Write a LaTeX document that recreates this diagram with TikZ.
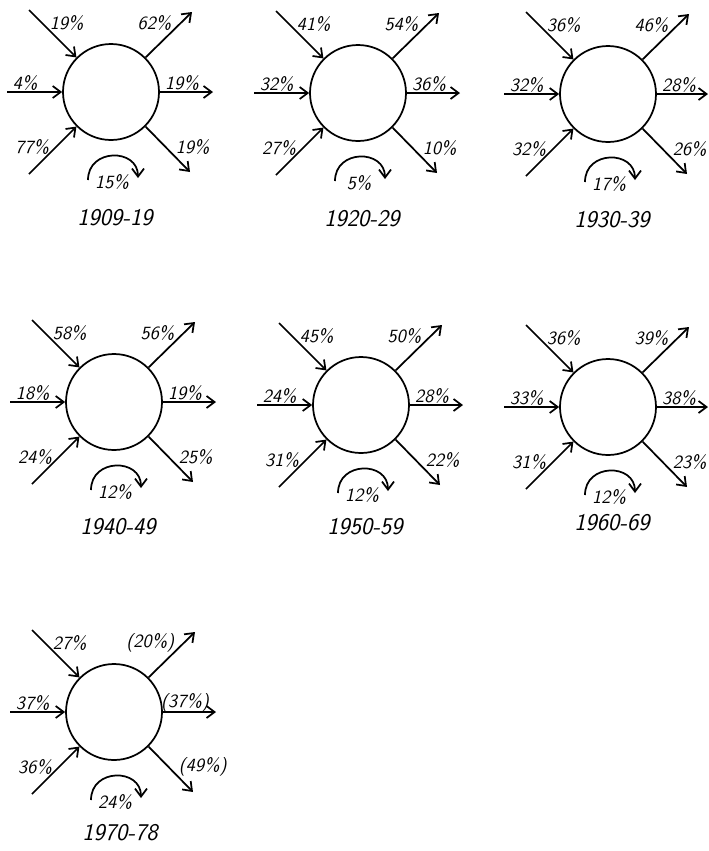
\documentclass[tikz,border=0pt]{standalone}
\usetikzlibrary{arrows.meta}
\tikzset{every picture/.style={line width=1.3pt}}
\tikzset{
	pool/.style={draw, circle, minimum size=72pt, inner sep=0pt},
	flow/.style={-{Straight Barb[length=6pt,width=9pt]}},
	pct/.style={font=\fontsize{14}{16}\selectfont\sffamily\slshape, inner sep=0pt},
	period/.style={font=\fontsize{18}{20}\selectfont\sffamily\slshape, inner sep=0pt}}

\begin{document}
\begin{tikzpicture}[x=0.75pt,y=0.75pt,yscale=-1,xscale=1]
	\useasboundingbox (0,0) rectangle (709,851);

	%Diagram: 1909-19
	\begin{scope}[shift={(111,92)}]
	\node[pool] (pool-a) at (0,0) {};
	\coordinate (nw-a) at (-82,-82);
	\coordinate (w-a) at (-104,0);
	\coordinate (sw-a) at (-82,82);
	\coordinate (ne-a) at (81,-80);
	\coordinate (e-a) at (102,0);
	\coordinate (se-a) at (79,80);
	\coordinate (rs-a) at (-23,88);
	\coordinate (re-a) at (27,86);
	\draw[flow] (nw-a) -- (pool-a.135);
	\draw[flow] (w-a) -- (pool-a.west);
	\draw[flow] (sw-a) -- (pool-a.225);
	\draw[flow] (pool-a.45) -- (ne-a);
	\draw[flow] (pool-a.east) -- (e-a);
	\draw[flow] (pool-a.315) -- (se-a);
	\draw[flow] (rs-a) .. controls (-23,56) and (27,56) .. (re-a);
	% Text Node
	\node[pct, anchor=west] (tnw-a) at (-62,-69) {19\%};
	\node[pct, anchor=west] (tw-a) at (-99,-9) {4\%};
	\node[pct] (tsw-a) at (-79,55) {77\%};
	\node[pct, anchor=east] (tne-a) at (61,-69) {62\%};
	\node[pct] (te-a) at (71,-9) {19\%};
	\node[pct, anchor=west] (tse-a) at (64,55) {19\%};
	\node[pct] (tr-a) at (1,90) {15\%};
	\node[period] (yr-a) at (4,126) {1909-19};
	\end{scope}

	%Diagram: 1920-29
	\begin{scope}[shift={(358,93)}]
	\node[pool] (pool-b) at (0,0) {};
	\coordinate (nw-b) at (-82,-82);
	\coordinate (w-b) at (-104,0);
	\coordinate (sw-b) at (-82,82);
	\coordinate (ne-b) at (81,-80);
	\coordinate (e-b) at (102,0);
	\coordinate (se-b) at (79,80);
	\coordinate (rs-b) at (-23,88);
	\coordinate (re-b) at (27,86);
	\draw[flow] (nw-b) -- (pool-b.135);
	\draw[flow] (w-b) -- (pool-b.west);
	\draw[flow] (sw-b) -- (pool-b.225);
	\draw[flow] (pool-b.45) -- (ne-b);
	\draw[flow] (pool-b.east) -- (e-b);
	\draw[flow] (pool-b.315) -- (se-b);
	\draw[flow] (rs-b) .. controls (-23,56) and (27,56) .. (re-b);
	% Text Node
	\node[pct, anchor=west] (tnw-b) at (-62,-69) {41\%};
	\node[pct, anchor=west] (tw-b) at (-99,-9) {32\%};
	\node[pct] (tsw-b) at (-79,55) {27\%};
	\node[pct, anchor=east] (tne-b) at (61,-69) {54\%};
	\node[pct] (te-b) at (71,-9) {36\%};
	\node[pct, anchor=west] (tse-b) at (64,55) {10\%};
	\node[pct] (tr-b) at (1,90) {5\%};
	\node[period] (yr-b) at (4,126) {1920-29};
	\end{scope}

	%Diagram: 1930-39
	\begin{scope}[shift={(608,94)}]
	\node[pool] (pool-c) at (0,0) {};
	\coordinate (nw-c) at (-82,-82);
	\coordinate (w-c) at (-104,0);
	\coordinate (sw-c) at (-82,82);
	\coordinate (ne-c) at (81,-80);
	\coordinate (e-c) at (100,0);
	\coordinate (se-c) at (79,80);
	\coordinate (rs-c) at (-23,88);
	\coordinate (re-c) at (27,86);
	\draw[flow] (nw-c) -- (pool-c.135);
	\draw[flow] (w-c) -- (pool-c.west);
	\draw[flow] (sw-c) -- (pool-c.225);
	\draw[flow] (pool-c.45) -- (ne-c);
	\draw[flow] (pool-c.east) -- (e-c);
	\draw[flow] (pool-c.315) -- (se-c);
	\draw[flow] (rs-c) .. controls (-23,56) and (27,56) .. (re-c);
	% Text Node
	\node[pct, anchor=west] (tnw-c) at (-62,-69) {36\%};
	\node[pct, anchor=west] (tw-c) at (-99,-9) {32\%};
	\node[pct] (tsw-c) at (-79,55) {32\%};
	\node[pct, anchor=east] (tne-c) at (61,-69) {46\%};
	\node[pct] (te-c) at (71,-9) {28\%};
	\node[pct, anchor=west] (tse-c) at (64,55) {26\%};
	\node[pct] (tr-c) at (1,90) {17\%};
	\node[period] (yr-c) at (4,126) {1930-39};
	\end{scope}

	%Diagram: 1940-49
	\begin{scope}[shift={(114,402)}]
	\node[pool] (pool-d) at (0,0) {};
	\coordinate (nw-d) at (-82,-82);
	\coordinate (w-d) at (-104,0);
	\coordinate (sw-d) at (-82,82);
	\coordinate (ne-d) at (81,-80);
	\coordinate (e-d) at (102,0);
	\coordinate (se-d) at (79,80);
	\coordinate (rs-d) at (-23,88);
	\coordinate (re-d) at (27,86);
	\draw[flow] (nw-d) -- (pool-d.135);
	\draw[flow] (w-d) -- (pool-d.west);
	\draw[flow] (sw-d) -- (pool-d.225);
	\draw[flow] (pool-d.45) -- (ne-d);
	\draw[flow] (pool-d.east) -- (e-d);
	\draw[flow] (pool-d.315) -- (se-d);
	\draw[flow] (rs-d) .. controls (-23,56) and (27,56) .. (re-d);
	% Text Node
	\node[pct, anchor=west] (tnw-d) at (-62,-69) {58\%};
	\node[pct, anchor=west] (tw-d) at (-99,-9) {18\%};
	\node[pct] (tsw-d) at (-79,55) {24\%};
	\node[pct, anchor=east] (tne-d) at (61,-69) {56\%};
	\node[pct] (te-d) at (71,-9) {19\%};
	\node[pct, anchor=west] (tse-d) at (64,55) {25\%};
	\node[pct] (tr-d) at (1,90) {12\%};
	\node[period] (yr-d) at (4,125) {1940-49};
	\end{scope}

	%Diagram: 1950-59
	\begin{scope}[shift={(361,405)}]
	\node[pool] (pool-e) at (0,0) {};
	\coordinate (nw-e) at (-82,-82);
	\coordinate (w-e) at (-104,0);
	\coordinate (sw-e) at (-82,82);
	\coordinate (ne-e) at (81,-80);
	\coordinate (e-e) at (102,0);
	\coordinate (se-e) at (79,80);
	\coordinate (rs-e) at (-23,88);
	\coordinate (re-e) at (27,86);
	\draw[flow] (nw-e) -- (pool-e.135);
	\draw[flow] (w-e) -- (pool-e.west);
	\draw[flow] (sw-e) -- (pool-e.225);
	\draw[flow] (pool-e.45) -- (ne-e);
	\draw[flow] (pool-e.east) -- (e-e);
	\draw[flow] (pool-e.315) -- (se-e);
	\draw[flow] (rs-e) .. controls (-23,56) and (27,56) .. (re-e);
	% Text Node
	\node[pct, anchor=west] (tnw-e) at (-62,-69) {45\%};
	\node[pct, anchor=west] (tw-e) at (-99,-9) {24\%};
	\node[pct] (tsw-e) at (-79,55) {31\%};
	\node[pct, anchor=east] (tne-e) at (61,-69) {50\%};
	\node[pct] (te-e) at (71,-9) {28\%};
	\node[pct, anchor=west] (tse-e) at (64,55) {22\%};
	\node[pct] (tr-e) at (1,90) {12\%};
	\node[period] (yr-e) at (4,122) {1950-59};
	\end{scope}

	%Diagram: 1960-69
	\begin{scope}[shift={(608,407)}]
	\node[pool] (pool-f) at (0,0) {};
	\coordinate (nw-f) at (-82,-82);
	\coordinate (w-f) at (-104,0);
	\coordinate (sw-f) at (-82,82);
	\coordinate (ne-f) at (81,-80);
	\coordinate (e-f) at (100,0);
	\coordinate (se-f) at (79,80);
	\coordinate (rs-f) at (-23,88);
	\coordinate (re-f) at (27,86);
	\draw[flow] (nw-f) -- (pool-f.135);
	\draw[flow] (w-f) -- (pool-f.west);
	\draw[flow] (sw-f) -- (pool-f.225);
	\draw[flow] (pool-f.45) -- (ne-f);
	\draw[flow] (pool-f.east) -- (e-f);
	\draw[flow] (pool-f.315) -- (se-f);
	\draw[flow] (rs-f) .. controls (-23,56) and (27,56) .. (re-f);
	% Text Node
	\node[pct, anchor=west] (tnw-f) at (-62,-69) {36\%};
	\node[pct, anchor=west] (tw-f) at (-99,-9) {33\%};
	\node[pct] (tsw-f) at (-79,55) {31\%};
	\node[pct, anchor=east] (tne-f) at (61,-69) {39\%};
	\node[pct] (te-f) at (71,-9) {38\%};
	\node[pct, anchor=west] (tse-f) at (64,55) {23\%};
	\node[pct] (tr-f) at (1,90) {12\%};
	\node[period] (yr-f) at (4,116) {1960-69};
	\end{scope}

	%Diagram: 1970-78
	\begin{scope}[shift={(114,712)}]
	\node[pool] (pool-g) at (0,0) {};
	\coordinate (nw-g) at (-82,-82);
	\coordinate (w-g) at (-104,0);
	\coordinate (sw-g) at (-82,82);
	\coordinate (ne-g) at (81,-80);
	\coordinate (e-g) at (102,0);
	\coordinate (se-g) at (79,80);
	\coordinate (rs-g) at (-23,88);
	\coordinate (re-g) at (27,86);
	\draw[flow] (nw-g) -- (pool-g.135);
	\draw[flow] (w-g) -- (pool-g.west);
	\draw[flow] (sw-g) -- (pool-g.225);
	\draw[flow] (pool-g.45) -- (ne-g);
	\draw[flow] (pool-g.east) -- (e-g);
	\draw[flow] (pool-g.315) -- (se-g);
	\draw[flow] (rs-g) .. controls (-23,56) and (27,56) .. (re-g);
	% Text Node
	\node[pct, anchor=west] (tnw-g) at (-62,-69) {27\%};
	\node[pct, anchor=west] (tw-g) at (-99,-9) {37\%};
	\node[pct] (tsw-g) at (-79,55) {36\%};
	\node[pct, anchor=east] (tne-g) at (61,-69) {(20\%)};
	\node[pct] (te-g) at (71,-9) {(37\%)};
	\node[pct, anchor=west] (tse-g) at (64,55) {(49\%)};
	\node[pct] (tr-g) at (1,90) {24\%};
	\node[period] (yr-g) at (6,121) {1970-78};
	\end{scope}

\end{tikzpicture}
\end{document}
